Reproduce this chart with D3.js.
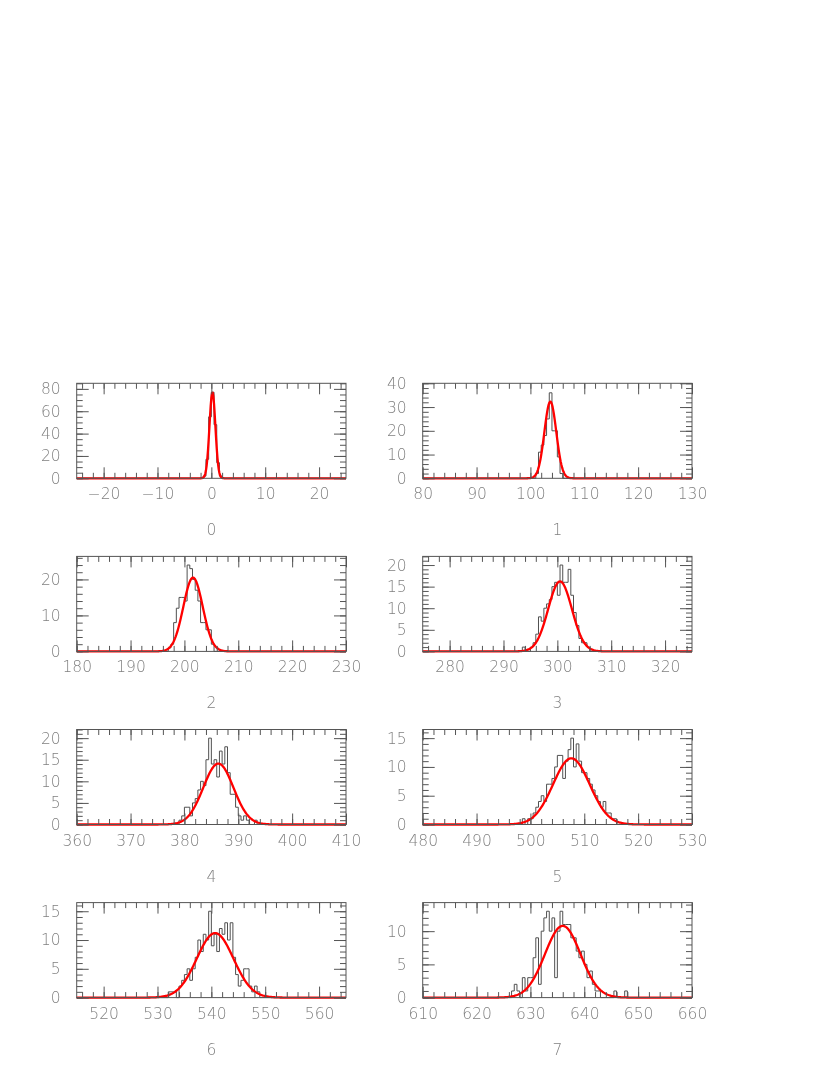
<!DOCTYPE html>
<html><head><meta charset="utf-8">
<script src="https://cdn.jsdelivr.net/npm/d3@7"></script>
<style>
body{margin:0;background:#fff}
svg{will-change:transform}
svg text{font-family:"DejaVu Sans",sans-serif;font-weight:200;fill:#808080;font-size:15.5px}
</style>
</head><body>
<svg id="c" width="830" height="1075"></svg>
<script>
// ---- data ----
const panelTitles = ["0","1","2","3","4","5","6","7"];
const xMin = [-25, 80, 180, 275, 360, 480, 515, 610];
const xMax = [25, 130, 230, 325, 410, 530, 565, 660];
const binWidth = 0.5;
const yAxisMax = [85, 40, 26.4, 22, 22, 16.5, 16.5, 14.3];
const yMajorStep = [20, 10, 10, 5, 5, 5, 5, 5];
const yMinorStep = [5, 2, 2, 1, 1, 1, 1, 1];
// first bin lower edge of each listed run of counts
const histStart = [-1.5, 101.0, 197.0, 293.5, 379.0, 498.5, 532.0, 626.5];
const counts0 = [2, 17, 55, 77, 48, 14, 2];
const counts1 = [2, 11, 14, 18, 25, 36, 20, 20, 9, 2];
const counts2 = [1, 2, 8, 12, 15, 15, 14, 24, 23, 20, 17, 14, 8, 8, 6, 6, 2];
const counts3 = [1, 0, 0, 1, 2, 4, 8, 7, 10, 11, 12, 15, 16, 13, 20, 16, 16, 19, 13, 9, 6, 3, 2, 2, 1];
const counts4 = [1, 2, 4, 4, 2, 5, 6, 8, 10, 9, 15, 20, 14, 15, 11, 17, 14, 18, 12, 7, 7, 4, 2, 1, 2, 1, 0, 0, 1];
const counts5 = [1, 0, 1, 1, 2, 3, 4, 5, 4, 7, 7, 8, 10, 12, 12, 8, 11, 13, 15, 10, 14, 11, 9, 9, 8, 7, 6, 5, 4, 3, 4, 2, 2, 1, 1];
const counts6 = [1, 1, 1, 0, 2, 3, 4, 5, 3, 5, 7, 10, 8, 11, 10, 15, 9, 11, 8, 12, 11, 13, 10, 13, 7, 4, 2, 3, 5, 5, 2, 1, 2, 1];
const counts7 = [1, 2, 1, 0, 3, 1, 3, 3, 6, 9, 2, 10, 12, 13, 10, 12, 3, 10, 13, 11, 11, 11, 9, 9, 7, 6, 7, 5, 3, 4, 2, 1, 1, 0, 0, 0, 0, 0, 1, 0, 0, 0, 1];
const histCounts = [counts0, counts1, counts2, counts3, counts4, counts5, counts6, counts7];
// gaussian fit parameters (constant, mean, sigma)
const fitAmp = [77, 32.3, 20.5, 16.2, 14.1, 11.5, 11.2, 10.8];
const fitMean = [0.2, 103.7, 201.6, 300.5, 386.3, 507.6, 540.7, 636.0];
const fitSigma = [0.55, 1.1, 1.8, 2.2, 2.8, 3.4, 3.4, 3.3];

// ---- layout ----
const colX = [76.7, 422.7];
const frameW = 269.3;
const rowY = [383.3, 556.4, 729.5, 902.6];
const frameH = 95;
const axisColor = "#555";

const svg = d3.select("#c");

panelTitles.forEach((title, i) => {
  const left = colX[i % 2], top = rowY[Math.floor(i / 2)];
  const x = d3.scaleLinear().domain([xMin[i], xMax[i]]).range([left, left + frameW]);
  const y = d3.scaleLinear().domain([0, yAxisMax[i]]).range([top + frameH, top]);
  const g = svg.append("g");

  // histogram outline
  const nb = Math.round((xMax[i] - xMin[i]) / binWidth);
  const startIdx = Math.round((histStart[i] - xMin[i]) / binWidth);
  const path = d3.path();
  path.moveTo(x(xMin[i]), y(0));
  for (let b = 0; b < nb; b++) {
    const k = b - startIdx;
    const c = (k >= 0 && k < histCounts[i].length) ? histCounts[i][k] : 0;
    const lo = xMin[i] + b * binWidth, hi = lo + binWidth;
    path.lineTo(x(lo), y(c));
    path.lineTo(x(hi), y(c));
  }
  path.lineTo(x(xMax[i]), y(0));
  g.append("path").attr("d", path.toString())
    .attr("fill", "none").attr("stroke", "#505050").attr("stroke-width", 1);

  // fit curve
  const xs = d3.range(0, 401).map(k => xMin[i] + (xMax[i] - xMin[i]) * k / 400);
  const line = d3.line().x(v => x(v))
    .y(v => y(fitAmp[i] * Math.exp(-0.5 * Math.pow((v - fitMean[i]) / fitSigma[i], 2))));
  g.append("path").datum(xs).attr("d", line)
    .attr("fill", "none").attr("stroke", "#ff0000").attr("stroke-width", 2.3)
    .attr("stroke-linejoin", "round");

  // axes
  const majX = d3.range(Math.ceil(xMin[i] / 10) * 10, xMax[i] + 1e-9, 10);
  const minX = d3.range(Math.ceil(xMin[i] / 2) * 2, xMax[i] + 1e-9, 2);
  const ymaxD = y.domain()[1];
  const majY = d3.range(0, ymaxD + 1e-9, yMajorStep[i]);
  const minY = d3.range(0, ymaxD + 1e-9, yMinorStep[i]);

  const style = sel => {
    sel.select(".domain").remove();
    sel.selectAll("line").attr("stroke", axisColor);
  };
  // bottom
  g.append("g").attr("transform", `translate(0,${top + frameH})`)
    .call(d3.axisBottom(x).tickValues(minX).tickSizeInner(-5.5).tickSizeOuter(0).tickFormat("")).call(style);
  g.append("g").attr("transform", `translate(0,${top + frameH})`)
    .call(d3.axisBottom(x).tickValues(majX).tickSizeInner(-11).tickSizeOuter(0).tickPadding(10).tickFormat(d3.format("d"))).call(style)
    .selectAll("text").attr("fill", null);
  // top
  g.append("g").attr("transform", `translate(0,${top})`)
    .call(d3.axisTop(x).tickValues(minX).tickSizeInner(-5.5).tickSizeOuter(0).tickFormat("")).call(style);
  g.append("g").attr("transform", `translate(0,${top})`)
    .call(d3.axisTop(x).tickValues(majX).tickSizeInner(-11).tickSizeOuter(0).tickFormat("")).call(style);
  // left
  g.append("g").attr("transform", `translate(${left},0)`)
    .call(d3.axisLeft(y).tickValues(minY).tickSizeInner(-6).tickSizeOuter(0).tickFormat("")).call(style);
  g.append("g").attr("transform", `translate(${left},0)`)
    .call(d3.axisLeft(y).tickValues(majY).tickSizeInner(-12).tickSizeOuter(0).tickPadding(16).tickFormat(d3.format("d"))).call(style)
    .selectAll("text").attr("fill", null);
  // right
  g.append("g").attr("transform", `translate(${left + frameW},0)`)
    .call(d3.axisRight(y).tickValues(minY).tickSizeInner(-6).tickSizeOuter(0).tickFormat("")).call(style);
  g.append("g").attr("transform", `translate(${left + frameW},0)`)
    .call(d3.axisRight(y).tickValues(majY).tickSizeInner(-12).tickSizeOuter(0).tickFormat("")).call(style);

  g.selectAll("text").attr("font-size", null).attr("font-family", null);

  // frame
  g.append("rect").attr("x", left).attr("y", top).attr("width", frameW).attr("height", frameH)
    .attr("fill", "none").attr("stroke", axisColor).attr("stroke-width", 1);

  // title below
  g.append("text").attr("x", left + frameW / 2).attr("y", top + frameH + 52)
    .attr("text-anchor", "middle").attr("dominant-baseline", "central").text(title);
});
</script>
</body></html>
